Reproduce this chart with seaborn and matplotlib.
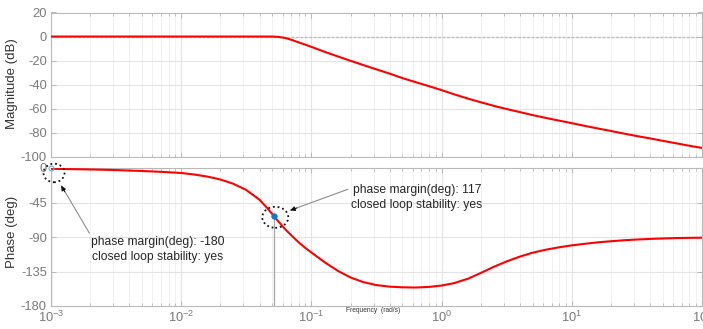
import matplotlib
matplotlib.use("Agg")
import matplotlib.pyplot as plt
import numpy as np
import pandas as pd
import seaborn as sns
from matplotlib.patches import Ellipse
from matplotlib.transforms import IdentityTransform, ScaledTranslation
from matplotlib.ticker import LogLocator, NullFormatter, MultipleLocator

# Frequency response samples (rad/s, dB, degrees)
freq = [0.001, 0.002, 0.003, 0.005, 0.007, 0.01, 0.0125, 0.016, 0.02, 0.025,
        0.0315, 0.04, 0.045, 0.05, 0.056, 0.063, 0.071, 0.08, 0.09, 0.1,
        0.112, 0.125, 0.14, 0.16, 0.18, 0.2, 0.25, 0.315, 0.4, 0.5,
        0.63, 0.8, 1, 1.25, 1.6, 2, 2.5, 3.15, 4, 5,
        6.3, 8, 10, 12.5, 16, 20, 25, 31.5, 40, 50,
        63, 80, 100]
mag_db = [0, 0, 0, 0, 0, 0, 0, 0, 0, 0,
          0, 0, 0, 0, -0.3, -1.2, -2.9, -4.9, -6.8, -8.6,
          -10.6, -12.5, -14.4, -16.6, -18.5, -20.2, -23.7, -27.3, -30.9, -34.6,
          -37.9, -41.3, -44.6, -48.1, -51.7, -54.7, -57.6, -60.3, -62.9, -65.4,
          -67.7, -70.0, -72.1, -74.3, -76.6, -78.6, -80.7, -82.8, -84.8, -86.8,
          -88.8, -90.9, -92.7]
phase_deg = [-1.0, -1.9, -2.6, -3.9, -5.0, -6.5, -8.4, -11.3, -15.0, -20.4,
             -28.5, -41.5, -50.8, -60.0, -70.0, -80.0, -88.7, -97.1, -104.4, -110.2,
             -116.4, -122.3, -127.9, -134.2, -138.8, -142.8, -148.8, -152.7, -154.8, -155.6,
             -155.9, -155.1, -153.3, -150.1, -144.3, -136.9, -129.1, -121.9, -115.5, -110.5,
             -106.6, -103.4, -100.9, -98.9, -96.9, -95.5, -94.3, -93.3, -92.5, -91.9,
             -91.4, -91.1, -90.9]

# Phase-margin data tips
pm_freq = [0.001, 0.0514]
pm_deg = [-180, 117]
pm_stable = ["yes", "yes"]

sns.set_theme(style="white")
plt.rcParams["font.family"] = ["Liberation Sans", "DejaVu Sans"]
plt.rcParams["mathtext.fontset"] = "custom"
plt.rcParams["mathtext.rm"] = "Liberation Sans"
plt.rcParams["mathtext.it"] = "Liberation Sans:italic"
plt.rcParams["mathtext.bf"] = "Liberation Sans:bold"
plt.rcParams["axes.unicode_minus"] = False

W, H = 703, 329
fig = plt.figure(figsize=(W / 100, H / 100), dpi=100)
fig.patch.set_facecolor("white")


def axes_px(x0, y0, x1, y1):
    return fig.add_axes([x0 / W, 1 - y1 / H, (x1 - x0) / W, (y1 - y0) / H])


ax_mag = axes_px(51, 12.5, 702, 156.7)
ax_ph = axes_px(51, 168, 702, 306)

df = pd.DataFrame({"freq": freq, "mag": mag_db, "phase": phase_deg})

TICK_LABEL = "#7a7a7a"
SPINE = "#b9b9b9"

for ax in (ax_mag, ax_ph):
    ax.set_xscale("log")
    ax.set_xlim(1e-3, 1e2)
    ax.xaxis.set_major_locator(LogLocator(base=10, numticks=12))
    ax.xaxis.set_minor_locator(LogLocator(base=10, subs=np.arange(2, 10), numticks=12))
    ax.xaxis.set_minor_formatter(NullFormatter())
    ax.grid(True, which="major", axis="both", color="#e4e4e4", lw=0.8)
    ax.grid(True, which="minor", axis="x", color="#efefef", lw=0.6)
    ax.set_axisbelow(True)
    ax.tick_params(which="both", direction="in", top=True, bottom=True,
                   left=True, right=True, color=SPINE, labelcolor=TICK_LABEL,
                   labelsize=9.3, pad=3)
    ax.tick_params(which="major", length=3.5, width=0.7)
    ax.tick_params(which="minor", length=2, width=0.6)
    for sp in ax.spines.values():
        sp.set_color(SPINE)
        sp.set_linewidth(0.8)

# Magnitude
sns.lineplot(data=df, x="freq", y="mag", ax=ax_mag, color="#ff0000", lw=1.5,
             estimator=None, sort=False, zorder=3)
ax_mag.axhline(0, color="#bdbdbd", lw=1.0, ls=(0, (2, 1.2)), zorder=1)
ax_mag.set_ylim(-100, 20)
ax_mag.yaxis.set_major_locator(MultipleLocator(20))
ax_mag.tick_params(labelbottom=False)
ax_mag.set_xlabel("")
ax_mag.set_ylabel("Magnitude (dB)", fontsize=9.5, color="#333333")
ax_mag.yaxis.set_label_coords(-0.05, 0.51)

# Phase
sns.lineplot(data=df, x="freq", y="phase", ax=ax_ph, color="#ff0000", lw=1.5,
             estimator=None, sort=False, zorder=3)
ax_ph.set_ylim(-180, 0)
ax_ph.yaxis.set_major_locator(MultipleLocator(45))
ax_ph.set_xlabel("")
ax_ph.set_ylabel("Phase (deg)", fontsize=9.5, color="#333333")
ax_ph.yaxis.set_label_coords(-0.05, 0.54)

fig.text(373 / W, 1 - 310 / H, "Frequency  (rad/s)", fontsize=4.8,
         ha="center", va="center", color="#333333")

# Phase-margin data tips: phase where the margin is measured
pm_phase = [(pm % 360) - 180 for pm in pm_deg]

ellipse_size = [(21, 18.5), (26, 21)]
ellipse_shift = [(3, -5), (1.5, -1)]
text_pos = [(0.1645, 0.409), (0.562, 0.786)]
arrow_dir = [(0.5, -0.866), (0.941, 0.339)]
arrow_gap = [20.5, 17.5]
text_relpos = [(0.0, 1.0), (0.0, 0.86)]
dot_style = [dict(mfc="none", mec="#6aaee8", ms=3.5, mew=0.8),
             dict(mfc="#1874cd", mec="#1874cd", ms=4.0, mew=0.5)]

for i, (f, ph, pm, st) in enumerate(zip(pm_freq, pm_phase, pm_deg, pm_stable)):
    ax_ph.vlines(f, -180, ph, color="#a6a6a6", lw=0.9, zorder=2)
    ax_ph.plot([f], [ph], marker="o", ls="none", zorder=5, clip_on=False, **dot_style[i])
    w, h = ellipse_size[i]
    dx, dy = ellipse_shift[i]
    ell = Ellipse((dx, dy), w, h, fill=False, ec="#111111", lw=1.3, ls=(0, (1, 1.6)),
                  transform=IdentityTransform() + ScaledTranslation(f, ph, ax_ph.transData),
                  clip_on=False, zorder=6)
    ax_ph.add_patch(ell)
    gap_pt = arrow_gap[i] * 72 / 100
    ax_ph.annotate(f"phase margin(deg): {pm}\nclosed loop stability: {st}",
                   xy=(f, ph), xycoords="data",
                   xytext=text_pos[i], textcoords="axes fraction",
                   ha="center", va="center", multialignment="center",
                   fontsize=8.7, color="#262626", linespacing=1.25,
                   arrowprops=dict(arrowstyle="-", color="#8c8c8c", lw=0.8,
                                   shrinkA=0, shrinkB=gap_pt,
                                   relpos=text_relpos[i]),
                   zorder=6, annotation_clip=False)
    ux, uy = arrow_dir[i]
    back = arrow_gap[i] + 7
    ax_ph.annotate("", xy=(f, ph), xycoords="data",
                   xytext=(ux * back, uy * back), textcoords="offset pixels",
                   arrowprops=dict(arrowstyle="-|>", color="#111111", lw=0.7,
                                   shrinkA=0, shrinkB=gap_pt, mutation_scale=7),
                   zorder=7, annotation_clip=False)

fig.savefig("out.png", dpi=100, facecolor="white")
